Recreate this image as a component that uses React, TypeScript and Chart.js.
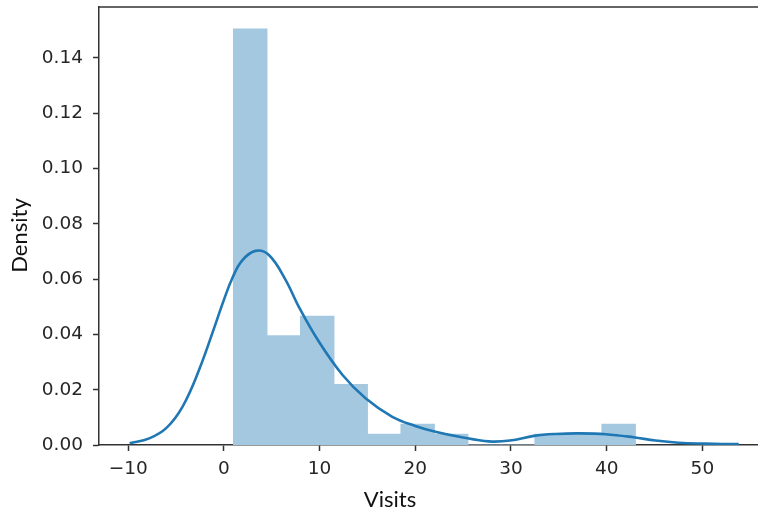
import React, { useEffect, useRef } from "react";
import { Chart, registerables } from "chart.js";

Chart.register(...registerables);

// Histogram (density) — bin centers (bin width 3.5, from 1 to 43)
const binCenters = [2.75, 6.25, 9.75, 13.25, 16.75, 20.25, 23.75, 27.25, 30.75, 34.25, 37.75, 41.25];
const binDensity = [0.1504, 0.0395, 0.0466, 0.0219, 0.0039, 0.0075, 0.0039, 0, 0, 0.0039, 0.0039, 0.0075];

// KDE curve
const kdeX = [-9.85, -7.8, -6.0, -4.3, -2.6, -0.85, 0.0, 0.9, 1.9, 3.3, 4.7, 6.4, 7.9, 9.9, 12.4, 14.8, 17.6, 20.0, 22.1, 24.6, 27.7, 29.9, 32.4, 34.7, 37.1, 39.9, 42.8, 45.1, 47.5, 50.3, 53.8];
const kdeY = [0.0006, 0.0024, 0.0062, 0.014, 0.0271, 0.044, 0.0525, 0.0605, 0.0667, 0.0702, 0.0687, 0.06, 0.0495, 0.0375, 0.0253, 0.0169, 0.0102, 0.0069, 0.0048, 0.003, 0.0013, 0.0016, 0.0033, 0.004, 0.0042, 0.0039, 0.0028, 0.0016, 0.0008, 0.0005, 0.0003];

const xTicks = [-10, 0, 10, 20, 30, 40, 50];
const yTicks = [0, 0.02, 0.04, 0.06, 0.08, 0.1, 0.12, 0.14];
const xLabel = "Visits";
const yLabel = "Density";

const X_MIN = -13.05;
const X_MAX = 57.17;
const Y_MAX = 0.1584;

const decor = {
  id: "decor",
  afterDraw(chart: any) {
    const { ctx, chartArea: a } = chart;
    ctx.save();
    ctx.strokeStyle = "#333";
    ctx.lineWidth = 1.5;
    ctx.beginPath();
    ctx.moveTo(a.left - 0.75, a.top);
    ctx.lineTo(a.right, a.top);
    ctx.stroke();
    ctx.fillStyle = "#111";
    ctx.font = "22px Lato";
    ctx.textAlign = "center";
    ctx.textBaseline = "alphabetic";
    ctx.fillText(xLabel, 390, 507);
    ctx.translate(27, 235.5);
    ctx.rotate(-Math.PI / 2);
    ctx.fillText(yLabel, 0, 0);
    ctx.restore();
  },
};

export default function App() {
  const ref = useRef<HTMLCanvasElement>(null);
  useEffect(() => {
    if (!ref.current) return;
    const tickFont = { family: "'DejaVu Sans'", size: 18.5 };
    const chart = new Chart(ref.current, {
      type: "bar",
      data: {
        datasets: [
          {
            type: "line",
            data: kdeX.map((x, i) => ({ x, y: kdeY[i] })),
            borderColor: "#1f77b4",
            borderWidth: 2.6,
            pointRadius: 0,
            fill: false,
            tension: 0.4,
            order: 0,
          } as any,
          {
            type: "bar",
            data: binCenters.map((x, i) => ({ x, y: binDensity[i] })),
            backgroundColor: "#a5c8e1",
            borderWidth: 0,
            inflateAmount: 0.5,
            barPercentage: 1,
            categoryPercentage: 1,
            order: 1,
          } as any,
        ],
      },
      options: {
        responsive: false,
        animation: false,
        devicePixelRatio: 1,
        layout: { padding: { top: 7, left: 0, right: 0, bottom: 0 } },
        plugins: { legend: { display: false }, tooltip: { enabled: false } },
        scales: {
          x: {
            type: "linear",
            min: X_MIN,
            max: X_MAX,
            offset: false,
            grid: { offset: false, drawOnChartArea: false, drawTicks: true, tickLength: 6, tickColor: "#333", tickWidth: 1.5 },
            border: { display: true, color: "#333", width: 1.5 },
            afterBuildTicks: (s: any) => {
              s.ticks = xTicks.map((v) => ({ value: v }));
            },
            afterFit: (s: any) => {
              s.height = 67;
              s.paddingLeft = 0;
              s.paddingRight = 0;
            },
            ticks: {
              font: tickFont,
              color: "#262626",
              padding: 7,
              maxRotation: 0,
              autoSkip: false,
              callback: (v: any) => String(v).replace("-", "\u2212"),
            },
          },
          y: {
            type: "linear",
            min: 0,
            max: Y_MAX,
            grid: { offset: false, drawOnChartArea: false, drawTicks: true, tickLength: 6, tickColor: "#333", tickWidth: 1.5 },
            border: { display: true, color: "#333", width: 1.5 },
            afterBuildTicks: (s: any) => {
              s.ticks = yTicks.map((v) => ({ value: v }));
            },
            afterFit: (s: any) => {
              s.width = 99;
              s.paddingTop = 0;
              s.paddingBottom = 0;
            },
            ticks: {
              font: tickFont,
              color: "#262626",
              padding: 10,
              autoSkip: false,
              callback: (v: any) => Number(v).toFixed(2),
            },
          },
        },
      },
      plugins: [decor],
    });
    return () => chart.destroy();
  }, []);
  return (
    <div style={{ position: "absolute", left: 0, top: 0, width: 758, height: 512, overflow: "hidden", background: "#fff" }}>
      <canvas ref={ref} width={771} height={512} style={{ display: "block" }} />
    </div>
  );
}
